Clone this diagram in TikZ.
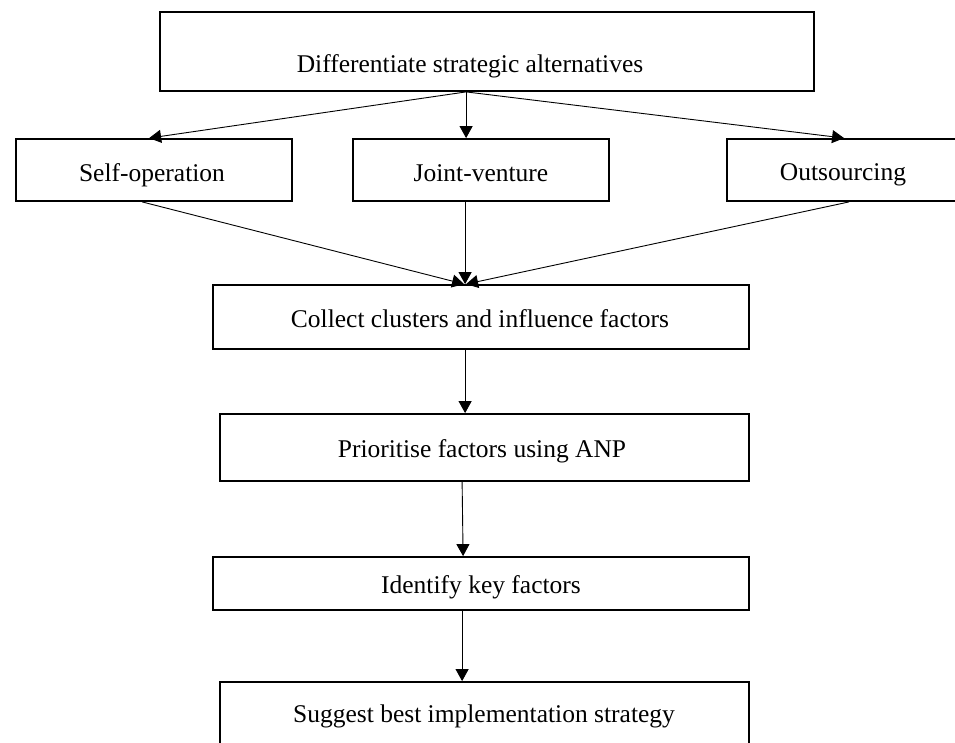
\documentclass[tikz,border=0pt]{standalone}
\usepackage{fontspec}
\setmainfont{Liberation Serif}
\usetikzlibrary{arrows.meta,calc}
\begin{document}
\begin{tikzpicture}[x=1pt,y=-1pt,
  box/.style={draw=black,line width=1.8pt,rectangle,inner sep=0pt},
  txt/.style={anchor=base,inner sep=0pt,font=\fontsize{25.5}{30}\selectfont},
  arr/.style={draw=black,line width=0.9pt,-{Triangle[length=12pt,width=13pt]}}]
\useasboundingbox (0,0) rectangle (955,742);
\begin{scope}
\clip (0,0) rectangle (955,742);
% boxes: corners in pixels
\node[box,minimum width=654pt,minimum height=79pt] (top) at (487,51.5) {};
\node[box,minimum width=276pt,minimum height=62pt] (so) at (154,170) {};
\node[box,minimum width=256pt,minimum height=62pt] (jv) at (481,170) {};
\node[box,minimum width=253pt,minimum height=62pt] (out) at (853.5,170) {};
\node[box,minimum width=536pt,minimum height=64pt] (col) at (481,317) {};
\node[box,minimum width=529pt,minimum height=67pt] (pri) at (484.5,447.5) {};
\node[box,minimum width=536pt,minimum height=53pt] (ide) at (481,583.5) {};
\node[box,minimum width=529pt,minimum height=78pt] (sug) at (484.5,721) {};
\end{scope}
% texts
\node[txt] (ttop) at (470,72) {Differentiate strategic alternatives};
\node[txt] (tso) at (152,181) {Self-operation};
\node[txt] (tjv) at (481,181) {Joint-venture};
\node[txt] (tout) at (843,180) {Outsourcing};
\node[txt] (tcol) at (480,327) {Collect clusters and influence factors};
\node[txt] (tpri) at (482,457) {Prioritise factors using ANP};
\node[txt] (tide) at (481,593) {Identify key factors};
\node[txt] (tsug) at (484,722) {Suggest best implementation strategy};
% connectors
\coordinate (o) at ($(top.south west)+(307,0)$);
\draw[arr] (o) -- ($(so.north west)+(134,0)$);
\draw[arr] (o) -- ($(jv.north west)+(114,0)$);
\draw[arr] (o) -- ($(out.north west)+(118,0)$);
\draw[arr] ($(so.south west)+(127,0)$) -- ($(col.north west)+(252,0)$);
\draw[arr] ($(jv.south west)+(113,0)$) -- ($(col.north west)+(253,0)$);
\draw[arr] ($(out.south west)+(123,0)$) -- ($(col.north west)+(254,0)$);
\draw[arr] ($(col.south west)+(253,0)$) -- ($(pri.north west)+(246,0)$);
\draw[arr] ($(pri.south west)+(243,0)$) -- ($(ide.north west)+(251,0)$);
\draw[arr] ($(ide.south west)+(250,0)$) -- ($(sug.north west)+(243,0)$);
\end{tikzpicture}
\end{document}
